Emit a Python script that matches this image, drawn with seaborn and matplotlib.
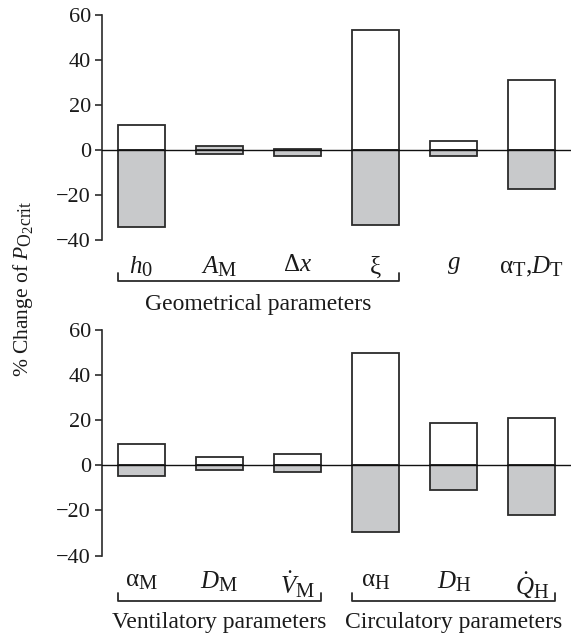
import matplotlib
matplotlib.use("Agg")
import matplotlib.pyplot as plt
import matplotlib.transforms as mtransforms
import matplotlib._mathtext as _mt
import seaborn as sns

# Sensitivity of P_O2crit to +/- changes of each model parameter (%)
geo_labels = [r"$h_0$", r"$A_\mathrm{M}$", r"$\mathrm{Δ}x$", r"$\mathrm{ξ}$",
              r"$g$", r"$\mathrm{α}_\mathrm{T}\mathrm{,}D_\mathrm{T}$"]
geo_white = [11.4, 0.0, 0.4, 53.5, 4.1, 31.0]
geo_gray = [-33.9, -1.5, -2.7, -33.3, -2.5, -17.3]
geo_gray_up = [0.0, 2.1, 0.0, 0.0, 0.0, 0.0]

flow_labels = [r"$\mathrm{α}_\mathrm{M}$", r"$D_\mathrm{M}$", r"$\dot{V}_\mathrm{M}$",
               r"$\mathrm{α}_\mathrm{H}$", r"$D_\mathrm{H}$", r"$\dot{Q}_\mathrm{H}$"]
flow_white = [9.2, 3.6, 5.1, 49.8, 18.7, 20.9]
flow_gray = [-4.6, -1.9, -2.8, -29.5, -11.1, -22.1]

y_ticks = [-40, -20, 0, 20, 40, 60]

sns.set_theme(style="white")
plt.rcParams["font.family"] = ["Liberation Serif", "DejaVu Serif"]
plt.rcParams["mathtext.fontset"] = "custom"
plt.rcParams["mathtext.rm"] = "Liberation Serif"
plt.rcParams["mathtext.it"] = "Liberation Serif:italic"
plt.rcParams["mathtext.bf"] = "Liberation Serif:bold"
# larger subscripts, closer to typeset journal style
_mt.SHRINK_FACTOR = 0.82

EDGE = "#2b2b2b"
GRAY = "#c8c9cb"
TXT = "#1a1a1a"
BAR_KW = dict(width=0.6, edgecolor=EDGE, linewidth=1.3, saturation=1)

fig = plt.figure(figsize=(5.71, 6.34), dpi=100)
ax_top = fig.add_axes([0.1786, 0.6207, 0.8214, 0.3556])
ax_bot = fig.add_axes([0.1786, 0.1235, 0.8214, 0.3565])


def draw_panel(ax, labels, white, gray, extra=None):
    sns.barplot(x=labels, y=white, order=labels, color="white", ax=ax, **BAR_KW)
    sns.barplot(x=labels, y=gray, order=labels, color=GRAY, ax=ax, **BAR_KW)
    if extra is not None:
        sns.barplot(x=labels, y=extra, order=labels, color=GRAY, ax=ax, **BAR_KW)
    ax.axhline(0, color="#111111", lw=1.0, zorder=5)
    ax.set_xlim(-0.5, len(labels) - 0.5)
    ax.set_ylim(-40, 60)
    ax.set_yticks(y_ticks)
    ax.set_yticklabels([f"{t}".replace("-", "\u2212") for t in y_ticks])
    for s in ("top", "right", "bottom"):
        ax.spines[s].set_visible(False)
    ax.spines["left"].set_color(EDGE)
    ax.spines["left"].set_linewidth(1.2)
    ax.tick_params(axis="y", left=True, length=5, width=1.2, color=EDGE,
                   labelsize=16, pad=3, labelcolor=TXT)
    ax.tick_params(axis="x", bottom=False, length=0, labelsize=18, pad=10,
                   labelcolor=TXT)
    ax.set_xlabel("")
    ax.set_ylabel("")
    ax.set_facecolor("white")


def bracket(ax, x0, x1, y, text, ty):
    tr = mtransforms.blended_transform_factory(ax.transData, ax.transAxes)
    h = 0.035
    ax.plot([x0, x0, x1, x1], [y + h, y, y, y + h], transform=tr,
            color=EDGE, lw=1.3, clip_on=False)
    ax.text((x0 + x1) / 2, ty, text, transform=tr, ha="center", va="center",
            fontsize=17, color=TXT)


draw_panel(ax_top, geo_labels, geo_white, geo_gray, geo_gray_up)
draw_panel(ax_bot, flow_labels, flow_white, flow_gray)

bracket(ax_top, -0.3, 3.3, -0.18, "Geometrical parameters", -0.285)
bracket(ax_bot, -0.3, 2.3, -0.20, "Ventilatory parameters", -0.297)
bracket(ax_bot, 2.7, 5.3, -0.20, "Circulatory parameters", -0.297)

fig.text(0.042, 0.544, r"% Change of $P_{\mathrm{O}_2\mathrm{crit}}$", rotation=90,
         ha="center", va="center", fontsize=15.5, color=TXT)

fig.savefig("out.png", dpi=100, facecolor="white")
